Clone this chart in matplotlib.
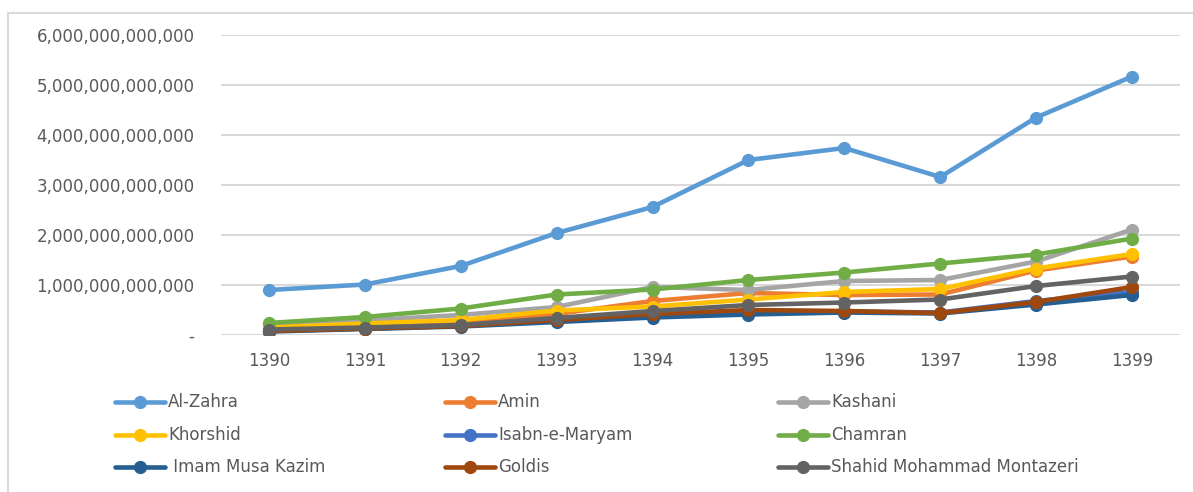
import matplotlib
matplotlib.use("Agg")
import matplotlib.pyplot as plt
from matplotlib.lines import Line2D
from matplotlib.ticker import FuncFormatter

years = ["1390", "1391", "1392", "1393", "1394", "1395", "1396", "1397", "1398", "1399"]

al_zahra = [0.90e12, 1.01e12, 1.38e12, 2.04e12, 2.56e12, 3.50e12, 3.74e12, 3.16e12, 4.35e12, 5.17e12]
amin = [0.12e12, 0.20e12, 0.27e12, 0.42e12, 0.68e12, 0.84e12, 0.80e12, 0.81e12, 1.29e12, 1.57e12]
kashani = [0.20e12, 0.29e12, 0.40e12, 0.56e12, 0.96e12, 0.90e12, 1.08e12, 1.10e12, 1.47e12, 2.11e12]
khorshid = [0.15e12, 0.23e12, 0.30e12, 0.49e12, 0.57e12, 0.71e12, 0.86e12, 0.92e12, 1.33e12, 1.62e12]
isabn_e_maryam = [0.08e12, 0.13e12, 0.18e12, 0.28e12, 0.38e12, 0.45e12, 0.47e12, 0.45e12, 0.68e12, 0.86e12]
chamran = [0.24e12, 0.36e12, 0.53e12, 0.81e12, 0.91e12, 1.10e12, 1.25e12, 1.43e12, 1.61e12, 1.93e12]
imam_musa_kazim = [0.07e12, 0.12e12, 0.17e12, 0.26e12, 0.35e12, 0.41e12, 0.45e12, 0.43e12, 0.61e12, 0.80e12]
goldis = [0.08e12, 0.13e12, 0.18e12, 0.30e12, 0.42e12, 0.50e12, 0.48e12, 0.44e12, 0.66e12, 0.96e12]
shahid = [0.11e12, 0.15e12, 0.20e12, 0.34e12, 0.48e12, 0.60e12, 0.65e12, 0.71e12, 0.98e12, 1.17e12]

names = ["Al-Zahra", "Amin", "Kashani", "Khorshid", "Isabn-e-Maryam", "Chamran",
         " Imam Musa Kazim", "Goldis", "Shahid Mohammad Montazeri"]
series = [al_zahra, amin, kashani, khorshid, isabn_e_maryam, chamran,
          imam_musa_kazim, goldis, shahid]
colors = ["#5B9BD5", "#ED7D31", "#A5A5A5", "#FFC000", "#4472C4", "#70AD47",
          "#255E91", "#9E480E", "#636363"]

plt.rcParams['font.family'] = ['DejaVu Sans']
W, H = 1193, 492
fig = plt.figure(figsize=(W / 100, H / 100), dpi=100)
ax = fig.add_axes([221 / W, 1 - 335 / H, 959 / W, 300 / H])

xs = list(range(len(years)))
for name, vals, c in zip(names, series, colors):
    ax.plot(xs, vals, color=c, lw=3.3, marker='o', ms=8.5, label=name,
            solid_capstyle='round', zorder=3)

ax.set_xlim(-0.5, len(years) - 0.5)
ax.set_ylim(0, 6e12)
ax.set_yticks([i * 1e12 for i in range(7)])
ax.yaxis.set_major_formatter(FuncFormatter(lambda v, p: "-" if v == 0 else f"{v:,.0f}"))
ax.set_xticks(xs)
ax.set_xticklabels(years)
ax.grid(axis='y', color='#D9D9D9', lw=1.5, zorder=0)
ax.grid(axis='x', visible=False)
for s in ax.spines.values():
    s.set_visible(False)
ax.tick_params(axis='both', length=0, colors='#595959', labelsize=12)
ax.tick_params(axis='y', pad=19)
ax.tick_params(axis='x', pad=12)

# legend manually laid out as 3 columns (matching Excel)
col_x = [115, 445, 778]
row_y = [402, 435, 467]
for i, (name, c) in enumerate(zip(names, colors)):
    r, k = divmod(i, 3)
    x0 = col_x[k]
    y0 = row_y[r]
    fig.add_artist(Line2D([x0 / W, (x0 + 50) / W], [1 - y0 / H, 1 - y0 / H],
                          color=c, lw=3.3, solid_capstyle='round',
                          transform=fig.transFigure))
    fig.add_artist(Line2D([(x0 + 25) / W], [1 - y0 / H], color=c, marker='o',
                          ms=8.5, lw=0, transform=fig.transFigure))
    fig.text((x0 + 53) / W, 1 - y0 / H, name, color='#595959', fontsize=12,
             va='center', ha='left')

# chart area border (left and top visible)
fig.add_artist(Line2D([8 / W, 8 / W, 1.0], [0.0, 1 - 13 / H, 1 - 13 / H],
                      color='#D9D9D9', lw=1.5, transform=fig.transFigure))

fig.savefig("out.png", dpi=100, facecolor='white')
